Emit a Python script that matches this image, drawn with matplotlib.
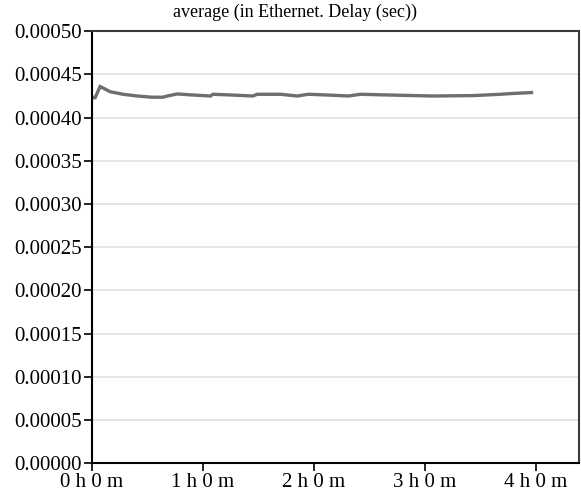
import matplotlib
matplotlib.use("Agg")
from matplotlib import pyplot as plt
from matplotlib.ticker import FuncFormatter, MultipleLocator

# sample times (hours) and average ethernet delay (sec)
hours = [0.0, 0.01, 0.03, 0.075, 0.165, 0.28, 0.41, 0.54, 0.64, 0.68, 0.77,
         0.89, 1.07, 1.09, 1.25, 1.45, 1.49, 1.70, 1.85, 1.95, 2.15, 2.31,
         2.42, 2.66, 3.07, 3.44, 3.68, 3.80, 3.96]
delay = [0.000425, 0.000423, 0.000423, 0.000436, 0.000430, 0.000427,
         0.000425, 0.0004236, 0.0004236, 0.000425, 0.0004274, 0.0004263,
         0.000425, 0.000427, 0.0004262, 0.000425, 0.000427, 0.000427,
         0.000425, 0.000427, 0.000426, 0.000425, 0.000427, 0.0004262,
         0.000425, 0.0004255, 0.000427, 0.000428, 0.000429]

x_ticks = [0, 1, 2, 3, 4]
x_labels = ["0 h 0 m", "1 h 0 m", "2 h 0 m", "3 h 0 m", "4 h 0 m"]
title = "average (in Ethernet. Delay (sec))"

plt.rcParams['font.family'] = ['Liberation Serif', 'DejaVu Serif']

fig = plt.figure(figsize=(5.81, 4.95), dpi=100)
ax = fig.add_axes([0.158, 0.064, 0.839, 0.873])

ax.plot(hours, delay, color='#6e6e6e', linewidth=2.4, solid_joinstyle='miter')

ax.set_xlim(0, 4.39)
ax.set_ylim(0, 0.0005)
ax.yaxis.set_major_locator(MultipleLocator(0.00005))
ax.yaxis.set_major_formatter(FuncFormatter(lambda v, p: f"{v:.5f}"))
ax.set_xticks(x_ticks)
ax.set_xticklabels(x_labels)

ax.grid(axis='y', color='#e2e2e2', linewidth=1.2)
ax.set_axisbelow(True)
ax.tick_params(axis='both', labelsize=15, length=6, width=1.2, color='black', pad=1)

for side in ['left', 'bottom']:
    ax.spines[side].set_color('black')
    ax.spines[side].set_linewidth(1.5)
for side in ['top', 'right']:
    ax.spines[side].set_color('#3a3a3a')
    ax.spines[side].set_linewidth(1.5)

fig.text(0.508, 0.975, title, ha='center', va='center', fontsize=13)

fig.savefig("out.png", dpi=100)
